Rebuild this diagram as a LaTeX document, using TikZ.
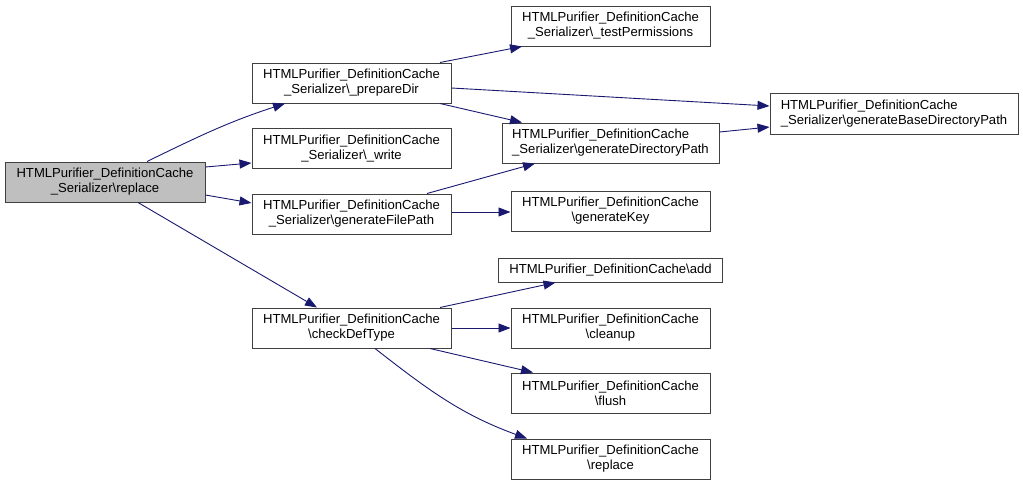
\documentclass[tikz,border=0pt]{standalone}
\usepackage{fontspec}
\setmainfont{Liberation Sans}
\usepackage{xcolor}
\usetikzlibrary{arrows.meta}
\definecolor{edgeblue}{RGB}{25,25,112}
\definecolor{rootgray}{RGB}{191,191,191}
\definecolor{boxline}{RGB}{64,64,64}

\begin{document}
\begin{tikzpicture}[->,
					>={Triangle[length=12pt,width=9pt]},
					x=1pt, y=1pt,
					node distance=259pt,
					fn node/.style={rectangle,draw=boxline,line width=1pt,fill=white,
					                font=\fontsize{13.1}{15}\selectfont,align=center,
					                inner sep=0pt,minimum width=199pt,minimum height=40pt},
					root node/.style={fn node,fill=rootgray},
					call/.style={draw=edgeblue,line width=0.9pt}]

  \useasboundingbox (0,0) rectangle (1023,-485);

  % caller
  \node[root node,minimum width=200pt] (root) at (105,-182) {HTMLPurifier\_DefinitionCache\\\_Serializer\textbackslash replace};

  % first level
  \node[fn node] (prep) [node distance=246.5pt,right of=root,yshift=99pt] {HTMLPurifier\_DefinitionCache\\\_Serializer\textbackslash\_prepareDir};
  \node[fn node] (write) [node distance=65.5pt,below of=prep] {HTMLPurifier\_DefinitionCache\\\_Serializer\textbackslash\_write};
  \node[fn node] (fpath) [node distance=65.5pt,below of=write] {HTMLPurifier\_DefinitionCache\\\_Serializer\textbackslash generateFilePath};
  \node[fn node] (check) [node distance=114pt,below of=fpath] {HTMLPurifier\_DefinitionCache\\\textbackslash checkDefType};

  % second level
  \node[fn node] (testp) [right of=prep,yshift=57pt] {HTMLPurifier\_DefinitionCache\\\_Serializer\textbackslash\_testPermissions};
  \node[fn node,align=left,minimum width=217pt] (gdir) [right of=prep,yshift=-60pt] {HTMLPurifier\_DefinitionCache\\\_Serializer\textbackslash generateDirectoryPath};
  \node[fn node] (gkey) [right of=fpath,yshift=3pt] {HTMLPurifier\_DefinitionCache\\\textbackslash generateKey};
  \node[fn node,minimum width=224pt,minimum height=24pt] (add) [right of=check,yshift=58pt] {HTMLPurifier\_DefinitionCache\textbackslash add};
  \node[fn node] (cleanup) [right of=check] {HTMLPurifier\_DefinitionCache\\\textbackslash cleanup};
  \node[fn node] (flush) [node distance=65pt,below of=cleanup] {HTMLPurifier\_DefinitionCache\\\textbackslash flush};
  \node[fn node] (repl) [node distance=66pt,below of=flush] {HTMLPurifier\_DefinitionCache\\\textbackslash replace};

  % third level
  \node[fn node,align=left,minimum width=248pt,minimum height=41pt] (base) [node distance=283.5pt,right of=gdir,yshift=29.5pt] {HTMLPurifier\_DefinitionCache\\\_Serializer\textbackslash generateBaseDirectoryPath};

  \path[every edge/.style={call,draw}]
    ([xshift=42pt]root.north) edge[out=26,in=198] ([xshift=-66.5pt]prep.south)
    ([yshift=15pt]root.east) edge ([yshift=-14.5pt]write.west)
    ([yshift=-13pt]root.east) edge ([yshift=11pt]fpath.west)
    ([xshift=33pt]root.south) edge ([xshift=-34.5pt]check.north)
    ([xshift=88.5pt]prep.north) edge ([xshift=-88.5pt]testp.south)
    ([yshift=-5pt]prep.east) edge ([yshift=7.5pt]base.west)
    ([xshift=88.5pt]prep.south) edge ([xshift=-88.5pt]gdir.north)
    ([yshift=11pt]gdir.east) edge ([yshift=-13.5pt]base.west)
    ([xshift=75.5pt]fpath.north) edge ([xshift=-75.5pt]gdir.south)
    ([yshift=2pt]fpath.east) edge ([yshift=-1pt]gkey.west)
    ([xshift=88.5pt]check.north) edge ([xshift=-55pt]add.south)
    (check) edge (cleanup)
    ([xshift=78.5pt]check.south) edge ([xshift=-77.5pt]flush.north)
    ([xshift=23.5pt]check.south) edge[out=-38,in=160] ([xshift=-83.5pt]repl.north);
\end{tikzpicture}
\end{document}
